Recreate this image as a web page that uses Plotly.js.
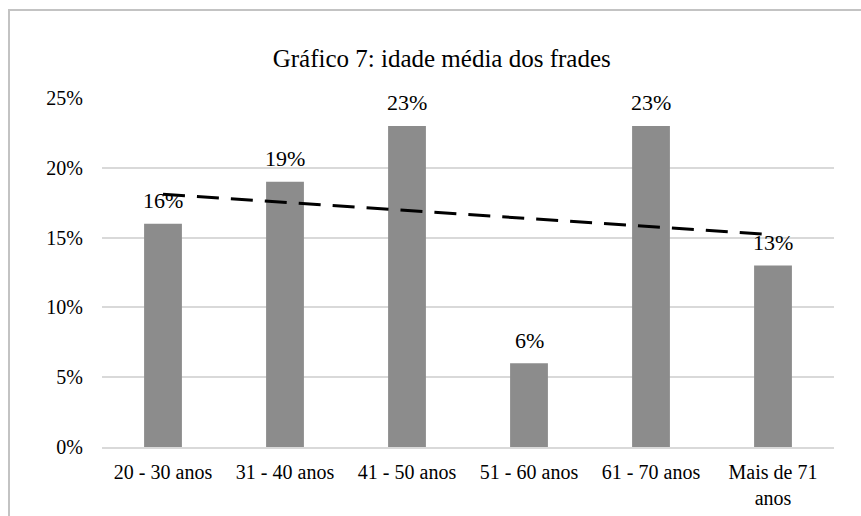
<!DOCTYPE html>
<html>
<head>
<meta charset="utf-8">
<script src="https://cdn.plot.ly/plotly-3.0.1.min.js"></script>
<style>
  body { margin: 0; background: #fff; }
  #frame { position: absolute; left: 8px; top: 9px; width: 900px; height: 600px; border: 2px solid #c3c3c3; }
  #plotArea { position: absolute; left: 0; top: 0; width: 861px; height: 516px; }
</style>
</head>
<body>
<div id="frame"></div>
<div id="plotArea"></div>
<script>
// faixas etárias e percentagens
var categories = ['20 - 30 anos', '31 - 40 anos', '41 - 50 anos', '51 - 60 anos', '61 - 70 anos', 'Mais de 71<br>anos'];
var values = [16, 19, 23, 6, 23, 13];
// linha de tendência
var trendX = [categories[0], categories[5]];
var trendY = [18.1, 15.2];
var yTicks = [0, 5, 10, 15, 20, 25];

var serif = 'Liberation Serif, Tinos, Times New Roman, DejaVu Serif';

var bars = {
    x: categories,
    y: values,
    type: 'bar',
    marker: {color: '#8c8c8c'},
    hoverinfo: 'x+y'
};

var trend = {
    x: trendX,
    y: trendY,
    type: 'scatter',
    mode: 'lines',
    line: {color: '#000', width: 3, dash: '22px,12px'},
    hoverinfo: 'skip'
};

// rótulos de dados por cima das barras
var labels = categories.map((c, i) => ({
    x: c,
    y: values[i],
    text: values[i] + '%',
    showarrow: false,
    yanchor: 'middle',
    yshift: 23,
    font: {family: serif, size: 22, color: '#000'}
}));

var layout = {
    width: 861,
    height: 516,
    margin: {l: 102, r: 27, t: 98, b: 69},
    paper_bgcolor: 'rgba(0,0,0,0)',
    plot_bgcolor: 'rgba(0,0,0,0)',
    showlegend: false,
    bargap: 0.69,
    font: {family: serif, size: 20, color: '#000'},
    title: {text: 'Gráfico 7: idade média dos frades', font: {family: serif, size: 25, color: '#000'}, x: 0.513, xanchor: 'center', y: 0.888, yanchor: 'middle'},
    annotations: labels,
    xaxis: {
        showgrid: false,
        showline: true,
        linecolor: '#d9d9d9',
        linewidth: 2,
        ticks: 'outside',
        ticklen: 6,
        tickcolor: 'rgba(0,0,0,0)',
        tickfont: {family: serif, size: 20, color: '#000'},
        fixedrange: true
    },
    yaxis: {
        range: [0, 25],
        tickvals: yTicks,
        ticktext: yTicks.map(v => v + '%'),
        showgrid: true,
        gridcolor: '#d9d9d9',
        gridwidth: 2,
        zeroline: false,
        ticks: 'outside',
        ticklen: 14,
        tickcolor: 'rgba(0,0,0,0)',
        tickfont: {family: serif, size: 20, color: '#000'},
        fixedrange: true
    }
};

Plotly.newPlot('plotArea', [bars, trend], layout, {displayModeBar: false});
</script>
</body>
</html>
